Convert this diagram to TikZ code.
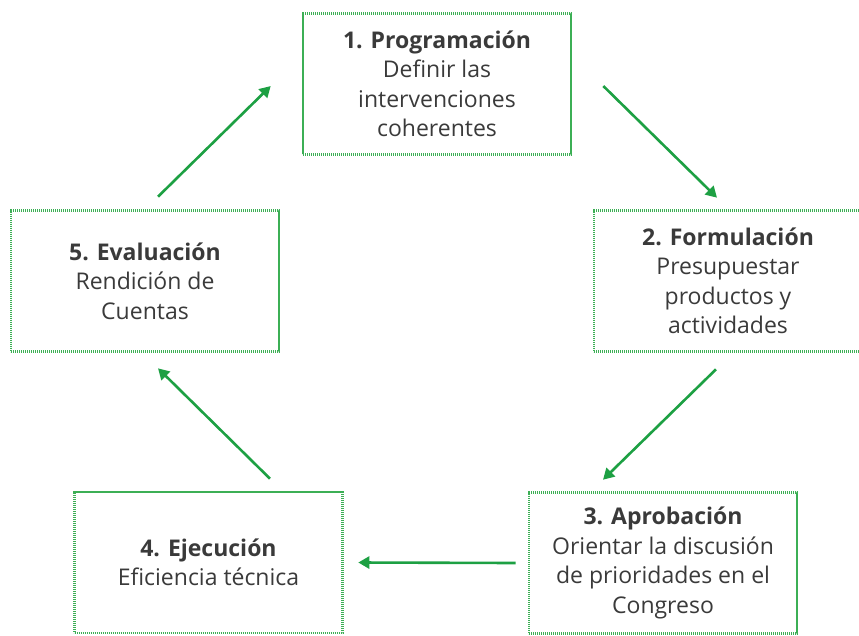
\documentclass[tikz,border=0pt]{standalone}
\usepackage{fontspec}
\setmainfont{Open Sans}
\usetikzlibrary{arrows.meta, calc}
\definecolor{cycgreen}{RGB}{29,160,67}
\definecolor{boxgreen}{RGB}{60,175,85}
\definecolor{txtgray}{RGB}{58,58,58}
\tikzset{
  stage/.style = {rectangle, draw=boxgreen, line width=2.6pt, dash pattern=on 1.1pt off 0.9pt,
                  minimum width=268pt, minimum height=141pt, align=center, text=txtgray,
                  font=\fontsize{23}{29.5}\selectfont},
  cyc/.style   = {-{Triangle[length=11pt,width=12pt]}, line width=2.6pt, draw=cycgreen}
}

\begin{document}
\begin{tikzpicture}[x=1pt, y=-1pt]
\useasboundingbox (0,0) rectangle (859,635);
%% ===== stages =====
\node[stage] (b1) at (437,84)    {\textbf{1. Programación}\\Definir las\\intervenciones\\coherentes};
\node[stage] (b2) at (728,281)   {\textbf{2. Formulación}\\Presupuestar\\productos y\\actividades};
\node[stage] (b3) at (663,563)   {\textbf{3. Aprobación}\\Orientar la discusión\\de prioridades en el\\Congreso};
\node[stage] (b4) at (208.5,562.5) {\textbf{4. Ejecución}\\Eficiencia técnica};
\node[stage] (b5) at (145,281)   {\textbf{5. Evaluación}\\Rendición de\\Cuentas};
%% ===== cycle =====
\draw[cyc] ($(b1.east)+(31,2)$)      -- ($(b2.north)+(-11,-11.5)$);
\draw[cyc] ($(b2.south)+(-12,16.5)$) -- ($(b3.north)+(-60,-11.5)$);
\draw[cyc] ($(b3.west)+(-12,0)$)     -- ($(b4.east)+(14.5,0)$);
\draw[cyc] ($(b4.north)+(61.5,-12)$) -- ($(b5.south)+(13,15.5)$);
\draw[cyc] ($(b5.north)+(13,-12.5)$) -- ($(b1.west)+(-31,2)$);
\end{tikzpicture}
\end{document}
